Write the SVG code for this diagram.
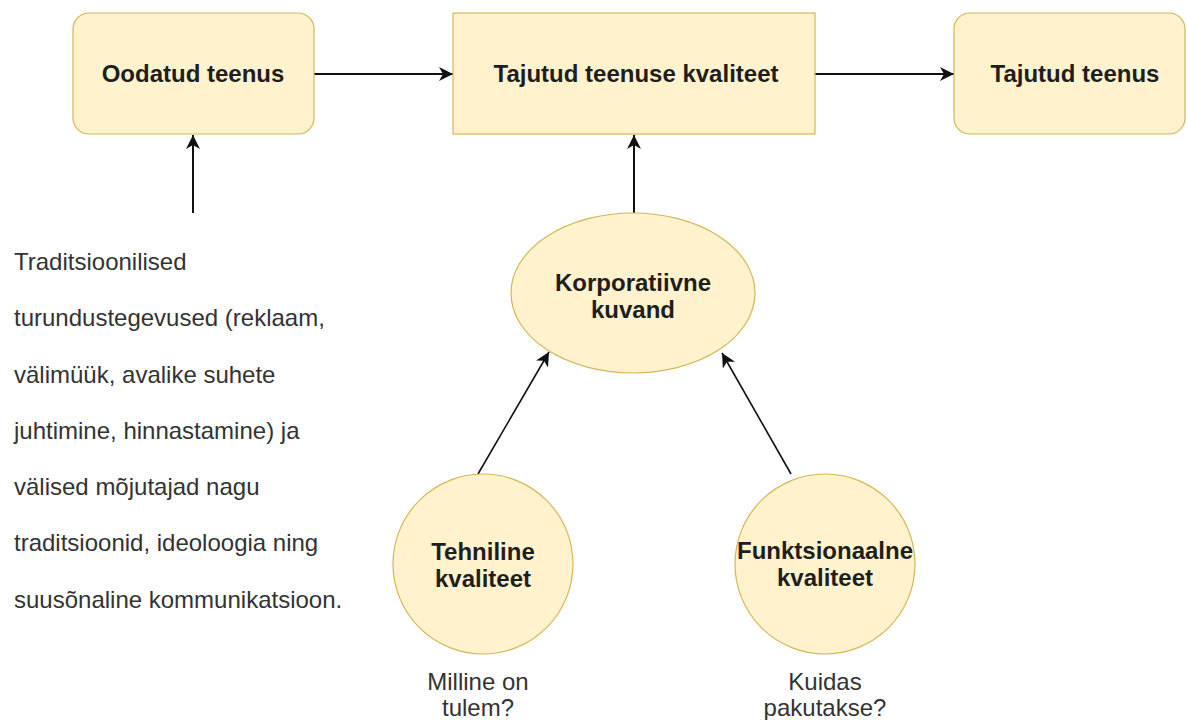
<svg xmlns="http://www.w3.org/2000/svg" width="1187" height="720" viewBox="0 0 1187 720">
<style>
.node{fill:#fff2cc;stroke:#d6b656;stroke-width:1.2}
.lbl{font-family:"Liberation Sans",Arial,sans-serif;font-size:24px;font-weight:bold;fill:#1e1e1e;text-anchor:middle}
.txt{font-family:"Liberation Sans",Arial,sans-serif;font-size:24px;fill:#333333}
.ctr{text-anchor:middle}
.edge{stroke:#111111;stroke-width:2;fill:none;marker-end:url(#arr)}
.thin{stroke-width:1.6}
</style>
<defs>
<marker id="arr" markerUnits="userSpaceOnUse" markerWidth="16" markerHeight="14" refX="14" refY="7" orient="auto">
<path d="M0,0 L14,7 L0,14 L4,7 Z" fill="#111111"/>
</marker>
</defs>
<rect width="1187" height="720" fill="#ffffff"/>
<g id="connectors">
<line class="edge" x1="314" y1="74" x2="453" y2="74"/>
<line class="edge" x1="815" y1="74" x2="954" y2="74"/>
<line class="edge" x1="193" y1="213" x2="193" y2="135"/>
<line class="edge" x1="634" y1="213" x2="634" y2="135"/>
<line class="edge thin" x1="478" y1="474" x2="549" y2="352"/>
<line class="edge thin" x1="791" y1="474" x2="722" y2="353"/>
</g>
<g id="oodatud">
<rect class="node" x="73" y="13" width="241" height="121" rx="16"/>
<text class="lbl" x="193" y="82">Oodatud teenus</text>
</g>
<g id="tajutud-kvaliteet">
<rect class="node" x="453" y="13" width="362" height="121"/>
<text class="lbl" x="636" y="82">Tajutud teenuse kvaliteet</text>
</g>
<g id="tajutud-teenus">
<rect class="node" x="954" y="13" width="231" height="121" rx="16"/>
<text class="lbl" x="1075" y="82">Tajutud teenus</text>
</g>
<g id="korporatiivne">
<ellipse class="node" cx="633" cy="293" rx="122" ry="80"/>
<text class="lbl" x="633" y="291">Korporatiivne</text>
<text class="lbl" x="633" y="318">kuvand</text>
</g>
<g id="tehniline">
<circle class="node" cx="483" cy="564" r="90"/>
<text class="lbl" x="483" y="560">Tehniline</text>
<text class="lbl" x="483" y="587">kvaliteet</text>
</g>
<g id="funktsionaalne">
<circle class="node" cx="825" cy="564" r="90"/>
<text class="lbl" x="825" y="559">Funktsionaalne</text>
<text class="lbl" x="825" y="586">kvaliteet</text>
</g>
<g id="traditsioonilised">
<text class="txt" x="14" y="270">Traditsioonilised</text>
<text class="txt" x="14" y="326">turundustegevused (reklaam,</text>
<text class="txt" x="14" y="383">välimüük, avalike suhete</text>
<text class="txt" x="14" y="439">juhtimine, hinnastamine) ja</text>
<text class="txt" x="14" y="495">välised mõjutajad nagu</text>
<text class="txt" x="14" y="551">traditsioonid, ideoloogia ning</text>
<text class="txt" x="14" y="608">suusõnaline kommunikatsioon.</text>
</g>
<g id="milline">
<text class="txt ctr" x="478" y="690">Milline on</text>
<text class="txt ctr" x="478" y="716">tulem?</text>
</g>
<g id="kuidas">
<text class="txt ctr" x="825" y="690">Kuidas</text>
<text class="txt ctr" x="825" y="716">pakutakse?</text>
</g>
</svg>
